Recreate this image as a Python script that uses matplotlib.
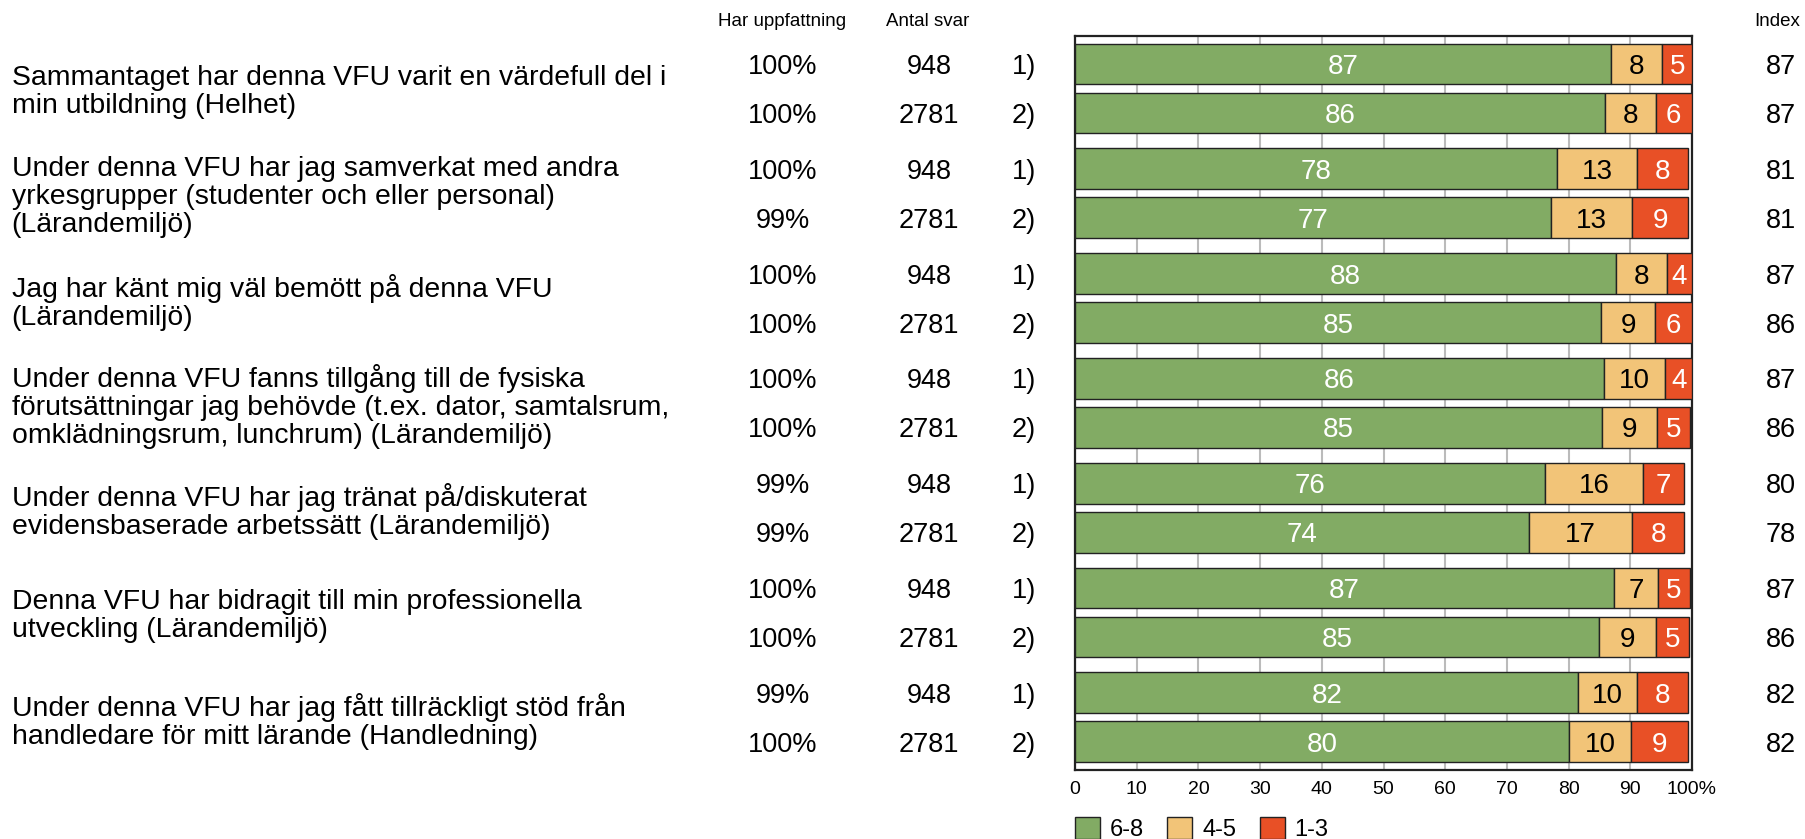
import matplotlib
matplotlib.use('Agg')
import matplotlib.pyplot as plt
import matplotlib.transforms as mtransforms
import numpy as np

plt.rcParams['font.family'] = ['Liberation Sans', 'DejaVu Sans']

# questions, one per pair of bars
questions = [
    "Sammantaget har denna VFU varit en värdefull del i\nmin utbildning (Helhet)",
    "Under denna VFU har jag samverkat med andra\nyrkesgrupper (studenter och eller personal)\n(Lärandemiljö)",
    "Jag har känt mig väl bemött på denna VFU\n(Lärandemiljö)",
    "Under denna VFU fanns tillgång till de fysiska\nförutsättningar jag behövde (t.ex. dator, samtalsrum,\nomklädningsrum, lunchrum) (Lärandemiljö)",
    "Under denna VFU har jag tränat på/diskuterat\nevidensbaserade arbetssätt (Lärandemiljö)",
    "Denna VFU har bidragit till min professionella\nutveckling (Lärandemiljö)",
    "Under denna VFU har jag fått tillräckligt stöd från\nhandledare för mitt lärande (Handledning)",
]

har_uppfattning = ["100%", "100%", "100%", "99%", "100%", "100%", "100%", "100%",
                   "99%", "99%", "100%", "100%", "99%", "100%"]
antal_svar = [948, 2781, 948, 2781, 948, 2781, 948, 2781, 948, 2781, 948, 2781, 948, 2781]
grupp = ["1)", "2)"] * 7
index_values = [87, 87, 81, 81, 87, 86, 87, 86, 80, 78, 87, 86, 82, 82]

# percentage shares per answer class
share_68 = np.array([86.8, 85.9, 78.2, 77.1, 87.7, 85.3, 85.7, 85.4, 76.1, 73.6, 87.4, 85.0, 81.6, 80.1])
share_45 = np.array([8.4, 8.2, 12.9, 13.2, 8.2, 8.7, 10.0, 9.0, 16.0, 16.7, 7.1, 9.1, 9.5, 10.0])
share_13 = np.array([4.8, 5.9, 8.3, 9.1, 4.1, 6.0, 4.3, 5.2, 6.6, 8.4, 5.1, 5.4, 8.3, 9.3])

GREEN = '#82AB64'
TAN = '#F2C478'
RED = '#E85026'
EDGE = '#222222'

W, H = 1805, 839
fig = plt.figure(figsize=(W / 100, H / 100), dpi=100)
ax = fig.add_axes([1075 / W, 1 - 770 / H, 617 / W, (770 - 35.7) / H])

step = 2.139
pos = []
for g in range(len(questions)):
    pos += [g * step, g * step + 1]
pos = np.array(pos)

bh = 0.83
b1 = ax.barh(pos, share_68, height=bh, color=GREEN, edgecolor=EDGE, linewidth=1.0,
             label='6-8', zorder=3)
b2 = ax.barh(pos, share_45, left=share_68, height=bh, color=TAN, edgecolor=EDGE,
             linewidth=1.0, label='4-5', zorder=3)
b3 = ax.barh(pos, share_13, left=share_68 + share_45, height=bh, color=RED,
             edgecolor=EDGE, linewidth=1.0, label='1-3', zorder=3)

# value labels in the middle of each segment
lefts = [np.zeros_like(share_68), share_68, share_68 + share_45]
for vals, left, col in zip([share_68, share_45, share_13], lefts, ['white', 'black', 'white']):
    for y, v, l in zip(pos, vals, left):
        ax.text(l + v / 2, y, str(int(round(v))), ha='center', va='center_baseline',
                color=col, fontsize=20, zorder=4)

ax.set_xlim(0, 100)
ax.set_ylim(pos[-1] + 0.575, -0.575)
ax.set_xticks(range(0, 101, 10))
ax.set_xticklabels([str(t) for t in range(0, 100, 10)] + ['100%'])
ax.tick_params(axis='x', length=0, pad=8, labelsize=14)
ax.set_yticks([])
ax.grid(axis='x', color='#BBBBBB', linewidth=1.5)
ax.set_axisbelow(True)
for s in ax.spines.values():
    s.set_linewidth(1.6)
    s.set_color(EDGE)

trans = mtransforms.blended_transform_factory(fig.transFigure, ax.transData)
for i, y in enumerate(pos):
    ax.text(783 / W, y, har_uppfattning[i], transform=trans, ha='center',
            va='center_baseline', fontsize=19.5, clip_on=False)
    ax.text(929 / W, y, str(antal_svar[i]), transform=trans, ha='center',
            va='center_baseline', fontsize=19.5, clip_on=False)
    ax.text(1024 / W, y, grupp[i], transform=trans, ha='center',
            va='center_baseline', fontsize=19.5, clip_on=False)
    ax.text(1781 / W, y, str(index_values[i]), transform=trans, ha='center',
            va='center_baseline', fontsize=19.5, clip_on=False)

for g, q in enumerate(questions):
    ax.text(11.5 / W, g * step + 0.5, q, transform=trans, ha='left', va='center_baseline',
            fontsize=20.4, linespacing=1.1, clip_on=False)

# column headers
fig.text(782 / W, 1 - 22 / H, 'Har uppfattning', ha='center', va='center', fontsize=13.5)
fig.text(928 / W, 1 - 22 / H, 'Antal svar', ha='center', va='center', fontsize=13.5)
fig.text(1777 / W, 1 - 22 / H, 'Index', ha='center', va='center', fontsize=13.5)

ax.legend(handles=[b1, b2, b3], loc='center left', bbox_to_anchor=(1075 / W, 1 - 829 / H),
          bbox_transform=fig.transFigure, ncol=3, frameon=False, fontsize=17,
          handlelength=1.05, handleheight=1.05, handletextpad=0.42, columnspacing=1.0,
          borderpad=0, borderaxespad=0)

fig.savefig('out.png', dpi=100)
